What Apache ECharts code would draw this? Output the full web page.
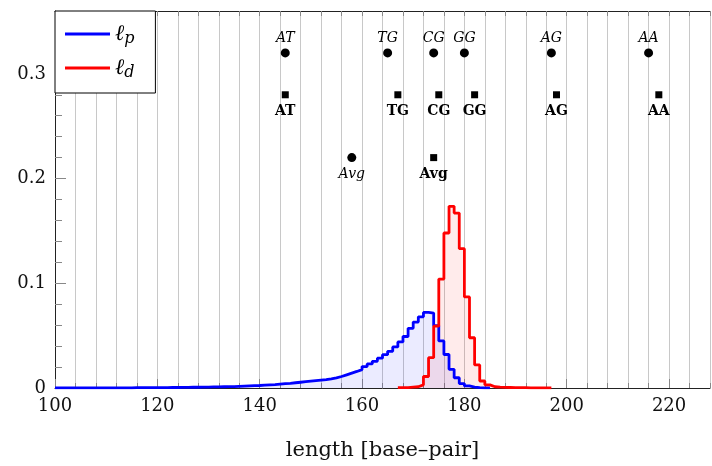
<!DOCTYPE html>
<html><head><meta charset="utf-8">
<script src="https://cdn.jsdelivr.net/npm/echarts@6/dist/echarts.min.js"></script>
<style>html,body{margin:0;padding:0;background:#fff}#c{width:712px;height:466px}</style>
</head><body><div id="c"></div>
<script>
// histogram of l_p: bins of width 1 starting at 100
const blueStart = 100;
const blueValues = [
 0.0001,0.0001,0.0001,0.0001,0.0001,0.0001,0.0001,0.0001,0.0001,0.0002,
 0.0002,0.0002,0.0002,0.0002,0.0002,0.0003,0.0003,0.0003,0.0003,0.0004,
 0.0004,0.0004,0.0005,0.0005,0.0006,0.0006,0.0007,0.0007,0.0008,0.0009,
 0.0010,0.0011,0.0012,0.0013,0.0014,0.0016,0.0018,0.0020,0.0022,0.0024,
 0.0027,0.0030,0.0033,0.0037,0.0041,0.0045,0.0050,0.0055,0.0060,0.0065,
 0.0070,0.0075,0.0080,0.0087,0.0096,0.0110,0.0126,0.0142,0.0158,0.0176,
 0.0205,0.0230,0.0255,0.0285,0.0318,0.0350,0.0392,0.0440,0.0492,0.0570,
 0.0630,0.0680,0.0722,0.0715,0.0595,0.0450,0.0320,0.0178,0.0098,0.0042,
 0.0020,0.0008,0.0003,0.0001,0.0001
];
// histogram of l_d: bins of width 1 starting at 167
const redStart = 167;
const redValues = [
 0.0003,0.0004,0.0008,0.0012,0.0030,0.0110,0.0290,0.0590,0.1040,0.1480,
 0.1735,0.1670,0.1330,0.0870,0.0480,0.0220,0.0067,0.0030,0.0012,0.0008,
 0.0006,0.0005,0.0004,0.0003,0.0003,0.0002,0.0002,0.0002,0.0001,0.0001
];
const dimerNames = ['AT','TG','CG','GG','AG','AA'];
const circleX = [145,165,174,180,197,216];
const circleY = 0.32;
const squareX = [145,167,175,182,198,218];
const squareY = 0.28;
const avgCircle = [158, 0.22];
const avgSquare = [174, 0.22];
const xMajorTicks = [100,120,140,160,180,200,220];

function stepData(start, vals){
  const d = vals.map((v,i)=>[start+i, v]);
  d.push([start+vals.length, vals[vals.length-1]]);
  return d;
}
const serif = 'DejaVu Serif';
const chart = echarts.init(document.getElementById('c'));
const circleData = dimerNames.map((n,i)=>[circleX[i], circleY, n]);
const squareData = dimerNames.map((n,i)=>[squareX[i], squareY, n]);
chart.setOption({
  animation:false,
  backgroundColor:'#fff',
  grid:{left:55, top:11, right:2, bottom:78},
  legend:{
    orient:'vertical', left:55, top:11,
    backgroundColor:'#fff', borderColor:'#000', borderWidth:1, borderRadius:0,
    padding:[12,21,12,10], itemGap:10,
    itemWidth:45, itemHeight:3, icon:'rect',
    data:['lp','ld'],
    formatter:n=> n==='lp' ? '{l|ℓ}{s|p}' : '{l|ℓ}{s|d}',
    textStyle:{rich:{
      l:{fontFamily:serif, fontSize:22, fontStyle:'italic', color:'#000', lineHeight:26},
      s:{fontFamily:serif, fontSize:16, fontStyle:'italic', color:'#000', verticalAlign:'bottom', lineHeight:20}
    }}
  },
  xAxis:[
    {type:'value', min:100, max:228, interval:4, position:'bottom',
     axisLine:{show:true, onZero:false, lineStyle:{color:'#222', width:1}},
     axisTick:{show:true, inside:true, length:5, lineStyle:{color:'#888'}},
     splitLine:{show:true, lineStyle:{color:'#c8c8c8', width:1}},
     axisLabel:{customValues:xMajorTicks, margin:9, color:'#111', fontFamily:serif, fontSize:18},
     name:'length [base–pair]', nameLocation:'middle', nameGap:52,
     nameTextStyle:{fontFamily:serif, fontSize:21, color:'#111'}
    },
    {type:'value', min:100, max:228, interval:20, position:'bottom',
     axisLine:{show:false}, splitLine:{show:false},
     axisTick:{show:true, inside:true, length:9, customValues:xMajorTicks, lineStyle:{color:'#888'}},
     axisLabel:{show:false}
    },
    {type:'value', min:100, max:228, interval:4, position:'top',
     axisLine:{show:true, lineStyle:{color:'#222', width:1}},
     axisTick:{show:true, inside:true, length:5, lineStyle:{color:'#888'}},
     splitLine:{show:false}, axisLabel:{show:false}
    }
  ],
  yAxis:{type:'value', min:0, max:0.36, interval:0.1,
    axisLine:{show:true, lineStyle:{color:'#222', width:1}},
    axisTick:{show:true, inside:true, length:11, lineStyle:{color:'#888'}},
    minorTick:{show:true, splitNumber:5, length:7, lineStyle:{color:'#888'}},
    splitLine:{show:false},
    axisLabel:{margin:9, color:'#111', fontFamily:serif, fontSize:18,
      formatter:v=>{ const r=Math.round(v*10); if(Math.abs(v*10-r)>1e-6) return ''; return r===0?'0':(r/10).toFixed(1);} }
  },
  series:[
    {name:'lp', type:'line', step:'end', xAxisIndex:0, showSymbol:false, symbol:'none',
     data:stepData(blueStart, blueValues), color:'#0000ff',
     lineStyle:{color:'#0000ff', width:2.8}, areaStyle:{color:'rgba(0,0,255,0.11)', origin:'start'}},
    {name:'ld', type:'line', step:'end', xAxisIndex:0, showSymbol:false, symbol:'none',
     data:stepData(redStart, redValues), color:'#ff0000',
     lineStyle:{color:'#ff0000', width:2.8}, areaStyle:{color:'rgba(255,0,0,0.11)', origin:'start'}},
    {type:'scatter', xAxisIndex:0, symbol:'circle', symbolSize:9, itemStyle:{color:'#000', opacity:1},
     data:circleData,
     label:{show:true, position:'top', distance:3, formatter:p=>p.data[2], fontFamily:serif, fontSize:14, fontStyle:'italic', color:'#000'}},
    {type:'scatter', xAxisIndex:0, symbol:'circle', symbolSize:9, itemStyle:{color:'#000', opacity:1},
     data:[[avgCircle[0], avgCircle[1], 'Avg']],
     label:{show:true, position:'bottom', distance:5, formatter:p=>p.data[2], fontFamily:serif, fontSize:14, fontStyle:'italic', color:'#000'}},
    {type:'scatter', xAxisIndex:0, symbol:'rect', symbolSize:7, itemStyle:{color:'#000', opacity:1},
     data:squareData.concat([[avgSquare[0], avgSquare[1], 'Avg']]),
     label:{show:true, position:'bottom', distance:6, formatter:p=>p.data[2], fontFamily:serif, fontSize:14, fontWeight:'bold', color:'#000'}}
  ]
});
</script></body></html>
